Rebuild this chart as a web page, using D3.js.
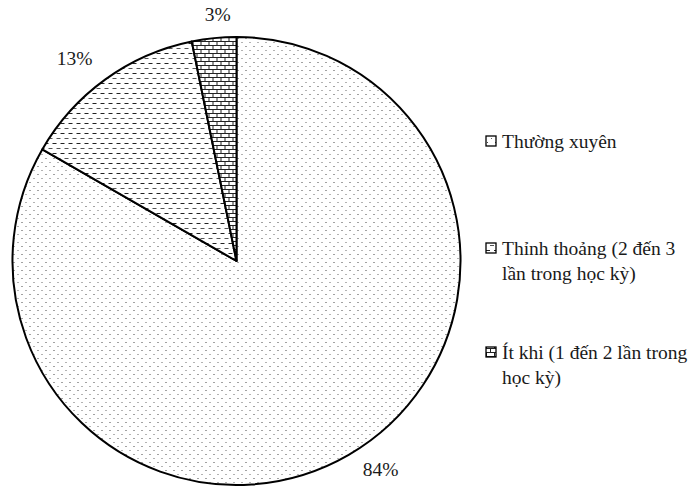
<!DOCTYPE html>
<html><head><meta charset="utf-8">
<script src="https://cdn.jsdelivr.net/npm/d3@7"></script>
<style>body{margin:0;background:#fff}svg{display:block}</style>
</head><body>
<script>
const categories = ["Thường xuyên", "Thỉnh thoảng (2 đến 3 lần trong học kỳ)", "Ít khi (1 đến 2 lần trong học kỳ)"];
const values = [83.3, 13.5, 3.2];
const valueLabels = ["84%", "13%", "3%"];
const legendLines = [["Thường xuyên"], ["Thỉnh thoảng (2 đến 3", "lần trong học kỳ)"], ["Ít khi (1 đến 2 lần trong", "học kỳ)"]];

const W = 693, H = 490;
const FONT = "Liberation Serif, Tinos, Times New Roman, DejaVu Serif, serif";
const svg = d3.select("body").append("svg").attr("width", W).attr("height", H);
const defs = svg.append("defs");

// patterns
const p0 = defs.append("pattern").attr("id", "pat0").attr("patternUnits", "userSpaceOnUse").attr("width", 8).attr("height", 8);
p0.append("rect").attr("width", 8).attr("height", 8).attr("fill", "#fff");
p0.append("rect").attr("x", 1).attr("y", 1).attr("width", 1).attr("height", 1).attr("fill", "#444");
p0.append("rect").attr("x", 5).attr("y", 5).attr("width", 1).attr("height", 1).attr("fill", "#666");

const p1 = defs.append("pattern").attr("id", "pat1").attr("patternUnits", "userSpaceOnUse").attr("width", 8).attr("height", 10);
p1.append("rect").attr("width", 8).attr("height", 10).attr("fill", "#fff");
p1.append("rect").attr("x", 0).attr("y", 2).attr("width", 4).attr("height", 1).attr("fill", "#222");
p1.append("rect").attr("x", 4).attr("y", 7).attr("width", 4).attr("height", 1).attr("fill", "#555");

const p2 = defs.append("pattern").attr("id", "pat2").attr("patternUnits", "userSpaceOnUse").attr("width", 8).attr("height", 8);
p2.append("rect").attr("width", 8).attr("height", 8).attr("fill", "#fff");
p2.append("rect").attr("x", 0).attr("y", 0).attr("width", 8).attr("height", 1).attr("fill", "#222");
p2.append("rect").attr("x", 0).attr("y", 4).attr("width", 8).attr("height", 1).attr("fill", "#222");
p2.append("rect").attr("x", 0).attr("y", 0).attr("width", 1).attr("height", 4).attr("fill", "#222");
p2.append("rect").attr("x", 4).attr("y", 4).attr("width", 1).attr("height", 4).attr("fill", "#222");

const fills = ["url(#pat0)", "url(#pat1)", "url(#pat2)"];

const cx = 236.5, cy = 261, R = 224;
const pie = d3.pie().sort(null).value(d => d)(values);
const arc = d3.arc().innerRadius(0).outerRadius(R);
const g = svg.append("g").attr("transform", `translate(${cx},${cy})`);
g.selectAll("path.slice").data(pie).join("path").attr("class", "slice")
  .attr("d", arc).attr("fill", (d, i) => fills[i])
  .attr("stroke", "#000").attr("stroke-width", 2).attr("stroke-linejoin", "round");

// value labels
const labelArc = d3.arc().innerRadius(R + 22).outerRadius(R + 22);
const labelOffsets = [[21, -4], [-18, -3], [6, -2]];
g.selectAll("text.val").data(pie).join("text").attr("class", "val")
  .attr("transform", (d, i) => {
    const c = labelArc.centroid(d);
    return `translate(${c[0] + labelOffsets[i][0]},${c[1] + labelOffsets[i][1]})`;
  })
  .attr("text-anchor", "middle").attr("dominant-baseline", "central")
  .attr("font-family", FONT).attr("font-size", 19.5).attr("fill", "#1a1a1a")
  .text((d, i) => valueLabels[i]);

// legend
const legY = [141, 248, 352];
const leg = svg.append("g");
categories.forEach((c, i) => {
  const gg = leg.append("g").attr("transform", `translate(486,${legY[i]})`);
  gg.append("rect").attr("x", 0).attr("y", -5).attr("width", 10).attr("height", 10)
    .attr("fill", fills[i]).attr("stroke", "#000").attr("stroke-width", 1.3);
  legendLines[i].forEach((ln, j) => {
    gg.append("text").attr("x", 16).attr("y", j * 25).attr("dominant-baseline", "central")
      .attr("font-family", FONT).attr("font-size", 19.5).attr("fill", "#1a1a1a").text(ln);
  });
});
</script>
</body></html>
